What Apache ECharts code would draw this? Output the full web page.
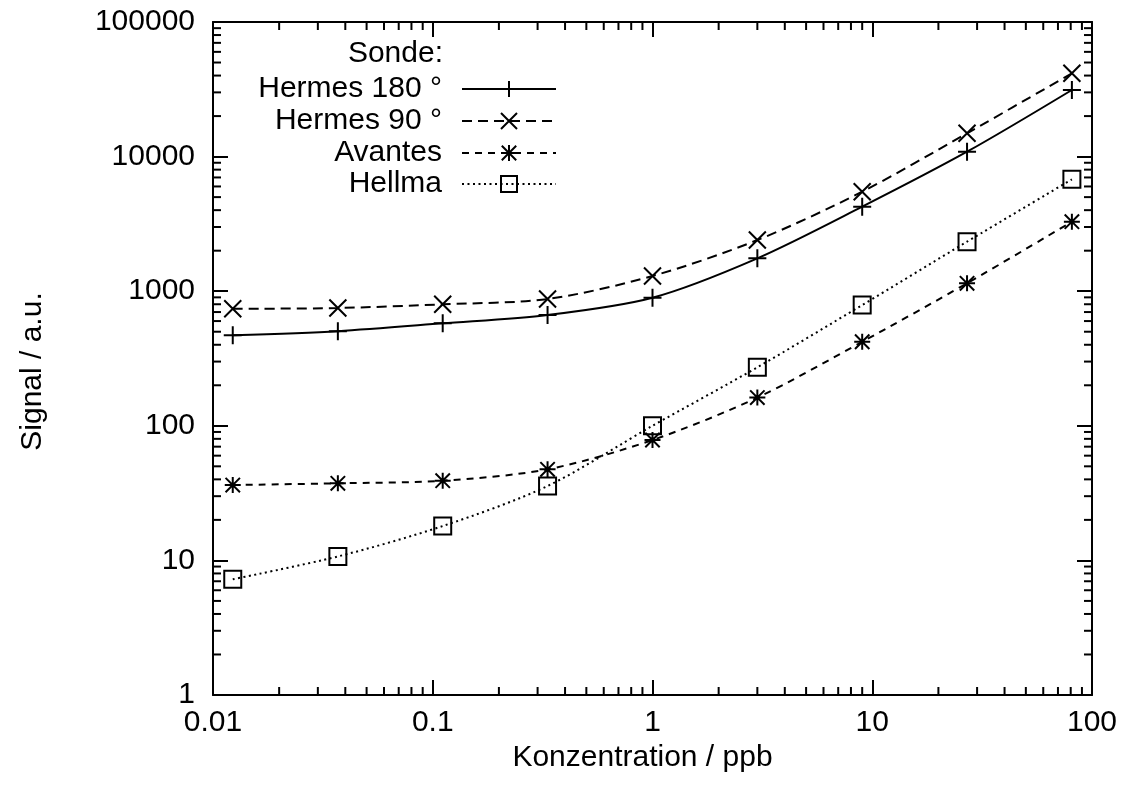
<!DOCTYPE html>
<html>
<head>
<meta charset="utf-8">
<script src="https://cdn.jsdelivr.net/npm/echarts@6/dist/echarts.min.js"></script>
<style>
html,body{margin:0;padding:0;background:#fff;}
#chart{width:1128px;height:792px;}
</style>
</head>
<body>
<div id="chart"></div>
<script>
// ---- data ----
const concentrations = [0.0123, 0.037, 0.111, 0.333, 1, 3, 9, 27, 81];
const hermes180 = [470, 505, 577, 666, 895, 1755, 4245, 10870, 31250];
const hermes90  = [740, 750, 799, 875, 1297, 2400, 5485, 14900, 41600];
const avantes   = [36.3, 37.4, 39.1, 47.5, 78.4, 162, 421, 1145, 3283];
const hellma    = [7.24, 10.7, 18.0, 35.7, 100, 272, 789, 2333, 6780];
const seriesNames = ['Hermes 180 °', 'Hermes 90 °', 'Avantes', 'Hellma'];
const legendTitle = 'Sonde:';
const xTickLabels = ['0.01', '0.1', '1', '10', '100'];
const yTickLabels = ['1', '10', '100', '1000', '10000', '100000'];
const xDecades = [0.01, 0.1, 1, 10];
const yDecades = [1, 10, 100, 1000, 10000];
const minorMultipliers = [2, 3, 4, 5, 6, 7, 8, 9];
const xTitle = 'Konzentration / ppb';
const yTitle = 'Signal / a.u.';

const X_MIN = 0.01, X_MAX = 100, Y_MIN = 1, Y_MAX = 100000;
const FONT = 'Liberation Sans';
const FS = 30;

const pair = arr => concentrations.map((x, i) => [x, arr[i]]);

const symPlus = 'path://M10,0L10,20M0,10L20,10';
const symCross = 'path://M0,0L20,20M20,0L0,20';
const symStar = 'path://M10,0L10,20M0,10L20,10M1,1L19,19M19,1L1,19';
const symSquare = 'path://M0,0L20,0L20,20L0,20Z';

function lineSeries(name, data, symbol, size, dash) {
  return {
    name: name, type: 'line', data: pair(data),
    symbol: symbol, symbolSize: size, smooth: 0.3,
    lineStyle: {color: '#000', width: 2, type: dash},
    itemStyle: {color: 'rgba(0,0,0,0)', borderColor: '#000', borderWidth: 2},
    emphasis: {disabled: true},
    z: 3
  };
}

const minorData = [];
xDecades.forEach(d => minorMultipliers.forEach(m => minorData.push([d * m, Y_MIN, 0])));
yDecades.forEach(d => minorMultipliers.forEach(m => minorData.push([X_MIN, d * m, 1])));

const MINOR_LEN = 8;
const tickStyle = {stroke: '#000', lineWidth: 2};

function labelFor(arr, v) {
  const i = Math.round(Math.log10(v)) - Math.round(Math.log10(arr === xTickLabels ? X_MIN : Y_MIN));
  return arr[i] !== undefined ? arr[i] : '';
}

const legendRows = [86, 118, 150, 181];

const option = {
  backgroundColor: '#fff',
  animation: false,
  title: {
    text: legendTitle, right: 685, top: 39, padding: 0,
    textStyle: {fontFamily: FONT, fontSize: FS, fontWeight: 'normal', color: '#000'}
  },
  legend: seriesNames.map((n, i) => ({
    data: [n], orient: 'vertical', right: 571, top: legendRows[i] - 12,
    align: 'right', itemWidth: 94, itemHeight: 20, padding: 0, itemGap: 0,
    selectedMode: false,
    textStyle: {fontFamily: FONT, fontSize: FS, color: '#000', padding: [0, 15, 0, 0]}
  })),
  grid: {left: 213, right: 36, top: 22, bottom: 97, containLabel: false},
  xAxis: [{
    type: 'log', logBase: 10, min: X_MIN, max: X_MAX, interval: 1,
    name: xTitle, nameLocation: 'middle', nameGap: 40,
    nameTextStyle: {fontFamily: FONT, fontSize: FS, color: '#000', padding: [0, 20, 0, 0]},
    axisLine: {show: true, lineStyle: {color: '#000', width: 2}},
    axisTick: {show: true, inside: true, length: 15, lineStyle: {color: '#000', width: 2}},
    axisLabel: {fontFamily: FONT, fontSize: FS, color: '#000', margin: 13,
      formatter: v => labelFor(xTickLabels, v)},
    splitLine: {show: false}
  }, {
    type: 'log', logBase: 10, min: X_MIN, max: X_MAX, interval: 1, position: 'top',
    axisLine: {show: true, lineStyle: {color: '#000', width: 2}},
    axisTick: {show: true, inside: true, length: 15, lineStyle: {color: '#000', width: 2}},
    axisLabel: {show: false}, splitLine: {show: false}
  }],
  yAxis: [{
    type: 'log', logBase: 10, min: Y_MIN, max: Y_MAX, interval: 1,
    name: yTitle, nameLocation: 'middle', nameGap: 165,
    nameTextStyle: {fontFamily: FONT, fontSize: FS, color: '#000', padding: [0, 26, 0, 0]},
    axisLine: {show: true, lineStyle: {color: '#000', width: 2}},
    axisTick: {show: true, inside: true, length: 15, lineStyle: {color: '#000', width: 2}},
    axisLabel: {fontFamily: FONT, fontSize: FS, color: '#000', margin: 18,
      formatter: v => labelFor(yTickLabels, v)},
    splitLine: {show: false}
  }, {
    type: 'log', logBase: 10, min: Y_MIN, max: Y_MAX, interval: 1, position: 'right',
    axisLine: {show: true, lineStyle: {color: '#000', width: 2}},
    axisTick: {show: true, inside: true, length: 15, lineStyle: {color: '#000', width: 2}},
    axisLabel: {show: false}, splitLine: {show: false}
  }],
  series: [
    lineSeries(seriesNames[0], hermes180, symPlus, 18, 'solid'),
    lineSeries(seriesNames[1], hermes90, symCross, 17, [10, 6]),
    lineSeries(seriesNames[2], avantes, symStar, 16, [7, 6]),
    lineSeries(seriesNames[3], hellma, symSquare, 17, [2, 3.5]),
    {
      type: 'custom', name: 'minorTicks', data: minorData, silent: true, clip: false,
      encode: {x: 0, y: 1},
      renderItem: function (params, api) {
        const kind = api.value(2);
        if (kind === 0) {
          const v = api.value(0);
          const b = api.coord([v, Y_MIN]);
          const t = api.coord([v, Y_MAX]);
          return {type: 'group', children: [
            {type: 'line', shape: {x1: b[0], y1: b[1], x2: b[0], y2: b[1] - MINOR_LEN}, style: tickStyle},
            {type: 'line', shape: {x1: t[0], y1: t[1], x2: t[0], y2: t[1] + MINOR_LEN}, style: tickStyle}
          ]};
        } else {
          const v = api.value(1);
          const l = api.coord([X_MIN, v]);
          const r = api.coord([X_MAX, v]);
          return {type: 'group', children: [
            {type: 'line', shape: {x1: l[0], y1: l[1], x2: l[0] + MINOR_LEN, y2: l[1]}, style: tickStyle},
            {type: 'line', shape: {x1: r[0], y1: r[1], x2: r[0] - MINOR_LEN, y2: r[1]}, style: tickStyle}
          ]};
        }
      }
    }
  ]
};

const chart = echarts.init(document.getElementById('chart'), null, {renderer: 'canvas'});
chart.setOption(option);
</script>
</body>
</html>
